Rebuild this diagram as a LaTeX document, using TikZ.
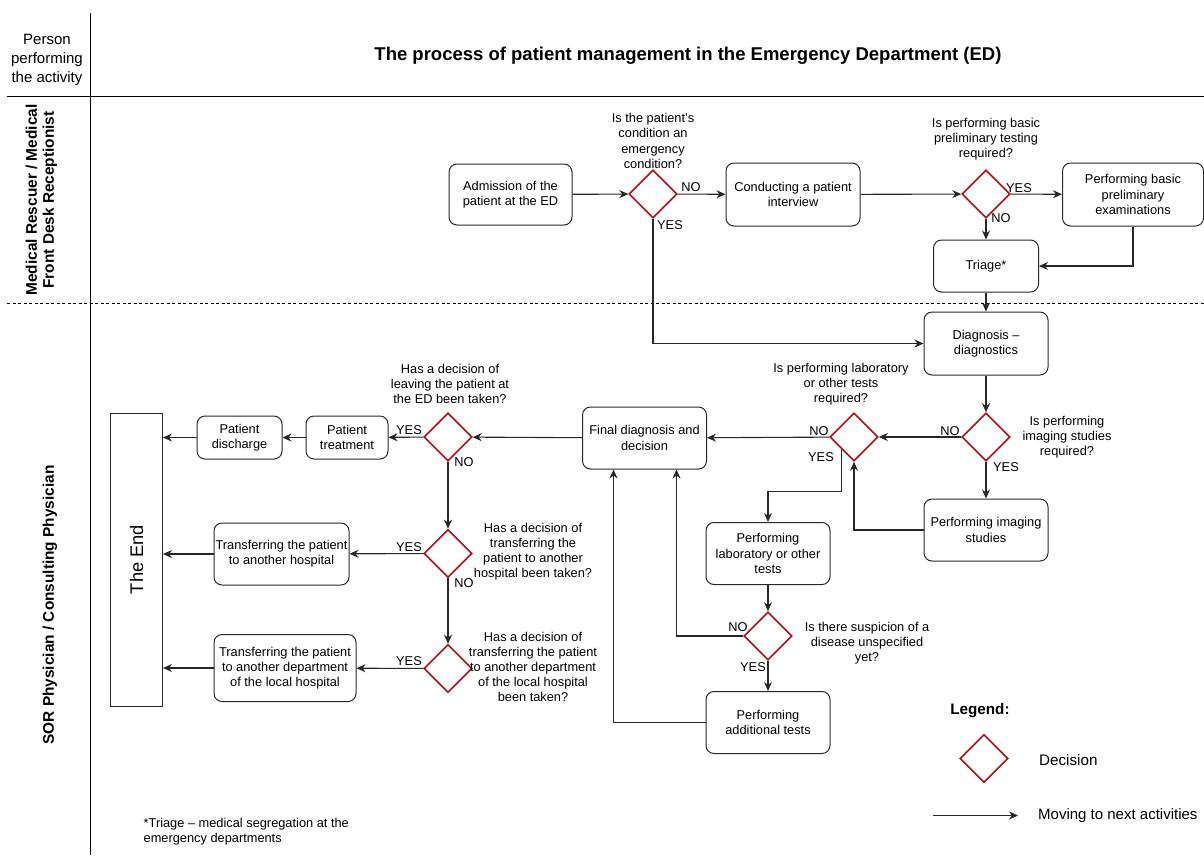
\documentclass[tikz,border=0pt]{standalone}
\usepackage{fontspec}
\setmainfont{Liberation Sans}
\usetikzlibrary{calc}
\usetikzlibrary{arrows.meta}
\usetikzlibrary{shapes.geometric}

\definecolor{decisionred}{RGB}{178,16,16}
\definecolor{lineGrey}{RGB}{40,40,40}

\newcommand{\bodyfont}{\fontsize{12.8pt}{15.2pt}\selectfont}
\newcommand{\headfont}{\fontsize{15pt}{18.7pt}\selectfont}
\newcommand{\lanefont}{\fontsize{15.4pt}{17pt}\selectfont\bfseries}
\newcommand{\flowtitlefont}{\fontsize{18.5pt}{22pt}\selectfont\bfseries}
\newcommand{\finishfont}{\fontsize{18.3pt}{22pt}\selectfont}

\tikzset{
	activity/.style = {draw = lineGrey, line width = 1pt, rounded corners = 8pt, align = center, font = \bodyfont, inner sep = 0pt},
	decision/.style = {diamond, draw = decisionred, line width = 1.6pt, minimum width = 48pt, minimum height = 48pt, inner sep = 0pt},
	question/.style = {align = center, font = \bodyfont, inner sep = 0pt},
	answer/.style = {font = \bodyfont, inner sep = 0pt},
	flow/.style = {draw = lineGrey, line width = 1.1pt, -{Stealth[length = 9pt, width = 8pt]}},
}

\begin{document}
\begin{tikzpicture}[x = 1pt, y = -1pt]

	% page frame (pixels of the original)
	\useasboundingbox (0,0) rectangle (1204,855);

	% swimlane grid
	\def \laneTop {96.5}
	\def \laneSplit {303.3}
	\draw [line width = 1pt] (90,13) -- (90,855);
	\draw [line width = 1pt] (7,\laneTop) -- (1204,\laneTop);
	\draw [line width = 0.9pt, dash pattern = on 3pt off 2.5pt] (7,\laneSplit) -- (1204,\laneSplit);

	% headers
	\node [font = \headfont, align = center, inner sep = 0pt] (hdr) at (47,60) {Person\\performing\\the activity};
	\node [font = \flowtitlefont, inner sep = 0pt] (title) at (688,56) {The process of patient management in the Emergency Department (ED)};
	\node [font = \lanefont, align = center, rotate = 90, inner sep = 0pt] (laneA) at (41.5,200) {Medical Rescuer / Medical\\Front Desk Receptionist};
	\node [font = \lanefont, rotate = 90, inner sep = 0pt] (laneB) at (50,605) {SOR Physician / Consulting Physician};

	% upper lane
	\node [activity, minimum width = 123pt, minimum height = 61pt] (adm) at (510.5,194.5) {Admission of the\\patient at the ED};
	\node [decision] (dEmerg) at (653,194) {};
	\node [question] at (653,141) {Is the patient's\\condition an\\emergency\\condition?};
	\node [activity, minimum width = 134pt, minimum height = 63pt] (intv) at (793,194.5) {Conducting a patient\\interview};
	\node [decision] (dBasic) at (986,194) {};
	\node [question] at (986,139) {Is performing basic\\preliminary testing\\required?};
	\node [activity, minimum width = 141pt, minimum height = 63pt] (prelim) at (1133,194.5) {Performing basic\\preliminary\\examinations};
	\node [activity, minimum width = 105pt, minimum height = 52pt] (triage) at (986,266) {Triage*};

	% lower lane, diagnostics
	\node [activity, minimum width = 124pt, minimum height = 63pt] (diag) at (986,343.5) {Diagnosis –\\diagnostics};
	\node [decision] (dImg) at (986,437) {};
	\node [question] at (1067,437) {Is performing\\imaging studies\\required?};
	\node [activity, minimum width = 124pt, minimum height = 62pt] (img) at (986,530) {Performing imaging\\studies};
	\node [decision] (dLab) at (854,437) {};
	\node [question] at (841,384) {Is performing laboratory\\or other tests\\required?};
	\node [activity, minimum width = 124pt, minimum height = 62pt] (final) at (644.5,438) {Final diagnosis and\\decision};
	\node [activity, minimum width = 124pt, minimum height = 62pt] (lab) at (768,553.5) {Performing\\laboratory or other\\tests};
	\node [decision] (dSusp) at (768,636) {};
	\node [question] at (867,643) {Is there suspicion of a\\disease unspecified\\yet?};
	\node [activity, minimum width = 124pt, minimum height = 62pt] (addl) at (768,722.5) {Performing\\additional tests};

	% lower lane, decisions on the patient
	\node [decision] (dStay) at (448,437) {};
	\node [question] at (450,384) {Has a decision of\\leaving the patient at\\the ED been taken?};
	\node [activity, minimum width = 82pt, minimum height = 43pt] (treat) at (347,437.5) {Patient\\treatment};
	\node [activity, minimum width = 85pt, minimum height = 43pt] (disch) at (239.5,437.5) {Patient\\discharge};
	\node [decision] (dHosp) at (448,553.5) {};
	\node [question] at (533,551.5) {Has a decision of\\transferring the\\patient to another\\hospital been taken?};
	\node [activity, minimum width = 135pt, minimum height = 62pt] (hosp) at (281.5,554) {Transferring the patient\\to another hospital};
	\node [decision] (dDept) at (448,668.5) {};
	\node [question] at (533,667) {Has a decision of\\transferring the patient\\to another department\\of the local hospital\\been taken?};
	\node [activity, minimum width = 142pt, minimum height = 67pt] (dept) at (285,668) {Transferring the patient\\to another department\\of the local hospital};
	\node [draw = lineGrey, line width = 1pt, minimum width = 52pt, minimum height = 293pt,
		label = {[rotate = 90, font = \finishfont]center:The End}] (end) at (136.5,559.5) {};

	% connectors, upper lane
	\draw [flow] (adm) -- (dEmerg);
	\draw [flow] (dEmerg) -- (intv);
	\draw [flow] (intv) -- (dBasic);
	\draw [flow] (dBasic) -- (prelim);
	\draw [flow] (dBasic) -- (triage);
	\draw [flow] (prelim.south) |- (triage.east);
	\draw [flow] (triage) -- (diag);
	\draw [flow] (dEmerg.south) |- (diag.west);

	% connectors, diagnostics
	\draw [flow] (diag) -- (dImg);
	\draw [flow] (dImg) -- (dLab);
	\draw [flow] (dImg) -- (img);
	\draw [flow] (img.west) -| (dLab.south);
	\draw [flow] (dLab) -- (final);
	\draw [flow] (dLab.south west) -- ++(0,42) -| (lab.north);
	\draw [flow] (lab) -- (dSusp);
	\draw [flow] (dSusp.west) -| ($(final.south) + (32,0)$);
	\draw [flow] (dSusp) -- (addl);
	\draw [flow] (addl.west) -| ($(final.south) + (-31,0)$);

	% connectors, decisions on the patient
	\draw [flow] (final) -- (dStay);
	\draw [flow] (dStay) -- (treat);
	\draw [flow] (treat) -- (disch);
	\draw [flow] (disch.west) -- (disch.west -| end.east);
	\draw [flow] (dStay) -- (dHosp);
	\draw [flow] (dHosp) -- (hosp);
	\draw [flow] (hosp.west) -- (hosp.west -| end.east);
	\draw [flow] (dHosp) -- (dDept);
	\draw [flow] (dDept) -- (dept);
	\draw [flow] (dept.west) -- (dept.west -| end.east);

	% YES / NO
	\node [answer] at (691,187) {NO};
	\node [answer] at (670,225) {YES};
	\node [answer] at (1019,188) {YES};
	\node [answer] at (1001,218) {NO};
	\node [answer] at (950,431) {NO};
	\node [answer] at (1006,467) {YES};
	\node [answer] at (819,431) {NO};
	\node [answer] at (821,457) {YES};
	\node [answer] at (738,627) {NO};
	\node [answer] at (753,667) {YES};
	\node [answer] at (409,430) {YES};
	\node [answer] at (464,462) {NO};
	\node [answer] at (409,547) {YES};
	\node [answer] at (464,583) {NO};
	\node [answer] at (409,661) {YES};

	% legend
	\node [font = \fontsize{15.2pt}{18pt}\selectfont\bfseries, inner sep = 0pt] (legend) at (980,711) {Legend:};
	\node [decision] (legDecision) at (984,758.5) {};
	\node [font = \fontsize{15.2pt}{18pt}\selectfont, anchor = west, inner sep = 0pt] (legDecisionText) at (1039,760) {Decision};
	\coordinate (legA) at (933,815.5);
	\coordinate (legB) at (1018,815.5);
	\draw [flow] (legA) -- (legB);
	\node [font = \fontsize{15pt}{18pt}\selectfont, anchor = west, inner sep = 0pt] (legFlowText) at (1038,816) {Moving to next activities};

	% footnote
	\node [font = \bodyfont, align = left, anchor = west, inner sep = 0pt] (note) at (143.5,832) {*Triage – medical segregation at the\\emergency departments};

\end{tikzpicture}
\end{document}
